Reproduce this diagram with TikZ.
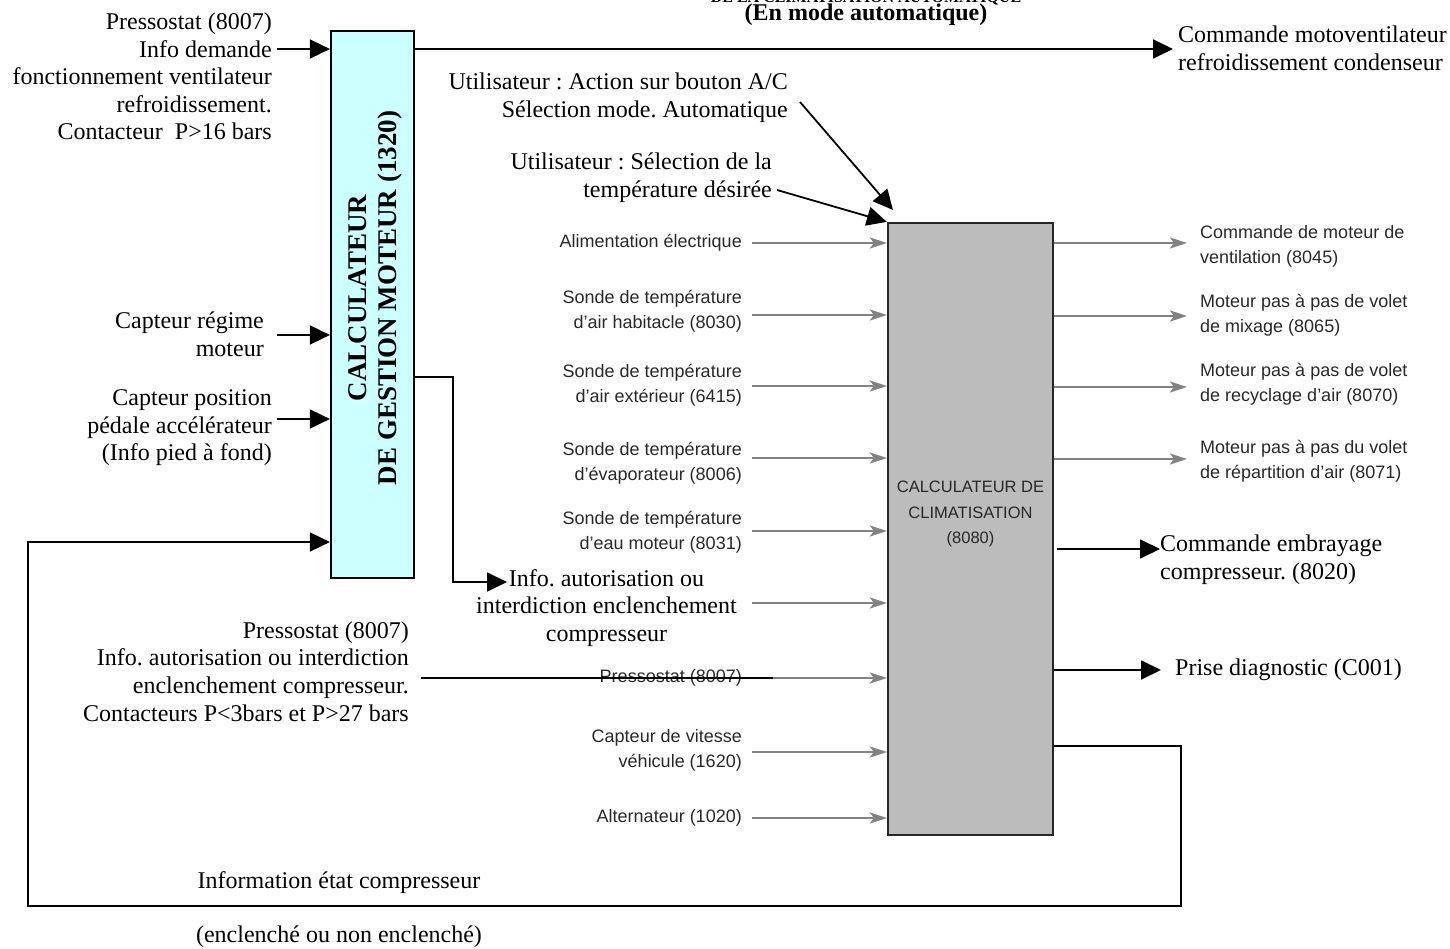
\documentclass[tikz,border=0pt]{standalone}
\usepackage{fontspec}
\setmainfont{Liberation Serif}
\newfontfamily\grayfont{Liberation Sans}
\usetikzlibrary{arrows.meta}
\definecolor{ecucyan}{RGB}{204,255,255}
\definecolor{climgray}{RGB}{188,188,188}
\definecolor{graytext}{RGB}{40,40,40}
\definecolor{grayline}{RGB}{130,130,130}
\frenchspacing
\begin{document}
\begin{tikzpicture}[x=1pt,y=-1pt,
  tnr/.style={font=\fontsize{24}{27.6}\selectfont, inner sep=0pt},
  gs/.style={font=\grayfont\fontsize{18}{25}\selectfont, text=graytext, inner sep=0pt},
  blk/.style={line width=1.8pt, -{Triangle[length=20pt,width=19pt]}},
  gry/.style={draw=grayline, line width=2.2pt, -{Stealth[length=17pt,width=11pt,inset=4pt]}},
  plain/.style={line width=1.8pt}
]
\useasboundingbox (0,0) rectangle (1450,949);

% titles (the first line is cut by the top edge, as in the reference)
\node[font=\bfseries\fontsize{16}{18}\selectfont, anchor=base, inner sep=0pt] (title0) at (866,2.5) {DE LA CLIMATISATION AUTOMATIQUE};
\node[font=\bfseries\fontsize{24}{27}\selectfont, inner sep=0pt] (title) at (866,15) {(En mode automatique)};

% boxes
\node[draw, fill=ecucyan, line width=2.2pt, minimum width=83pt, minimum height=547pt, inner sep=0pt] (ecu) at (372.5,304.5) {};
\node[rotate=90, font=\bfseries\fontsize{27}{30}\selectfont, align=center, inner sep=0pt] (ecutxt) at (375,298) {CALCULATEUR\\DE GESTION MOTEUR (1320)};

\node[draw=black!85, fill=climgray, line width=2.2pt, minimum width=165pt, minimum height=612pt, inner sep=0pt] (clim) at (970.5,529) {};
\node[font=\grayfont\fontsize{16.5}{25.5}\selectfont, text=graytext, align=center, inner sep=0pt] (climtxt) at (970.5,514) {CALCULATEUR DE\\CLIMATISATION\\(8080)};

% left texts of the engine ECU
\node[tnr, align=right, anchor=east] (p1) at (272,76.5) {Pressostat (8007)\\Info demande\\fonctionnement ventilateur\\refroidissement.\\Contacteur\ \ P>16 bars};
\node[tnr, align=right, anchor=east] (reg) at (264,334) {Capteur régime\\moteur};
\node[tnr, align=right, anchor=east] (ped) at (272,428) {Capteur position\\pédale accélérateur\\(Info pied à fond)};
\node[tnr, align=right, anchor=east] (p2) at (409,671.5) {Pressostat (8007)\\Info. autorisation ou interdiction\\enclenchement compresseur.\\Contacteurs P<3bars et P>27 bars\ };

\coordinate (a1) at (277,49);
\coordinate (a2) at (277,335);
\coordinate (a3) at (277,419);
\draw[blk] (a1) -- (a1 -| ecu.west);
\draw[blk] (a2) -- (a2 -| ecu.west);
\draw[blk] (a3) -- (a3 -| ecu.west);

% top output
\node[tnr, align=left, anchor=west] (mv) at (1178,48.5) {Commande motoventilateur\\refroidissement condenseur};
\coordinate (o1) at (1173,49);
\draw[blk] (o1 -| ecu.east) -- (o1);

% user inputs
\node[tnr, align=right, anchor=east] (u1) at (788,97.5) {Utilisateur : Action sur bouton A/C\\Sélection mode. Automatique};
\node[tnr, align=right, anchor=east] (u2) at (772,177.5) {Utilisateur : Sélection de la\\température désirée};
\coordinate (u1s) at (800,102);
\coordinate (u1e) at (893,210);
\coordinate (u2s) at (777,190);
\draw[blk] (u1s) -- (u1e);
\draw[blk] (u2s) -- (clim.north west);

% info autorisation from ECU
\node[tnr, align=center] (ia) at (606.5,608) {Info. autorisation ou\\interdiction enclenchement\\compresseur};
\coordinate (ia1) at (453,377);
\coordinate (ia2) at (453,582);
\coordinate (ia3) at (507,582);
\draw[blk] (ia1 -| ecu.east) -- (ia1) -- (ia2) -- (ia3);

% gray inputs
\node[gs, anchor=east] (g1) at (742,243) {Alimentation électrique};
\node[gs, anchor=east, align=right] (g2) at (742,311.5) {Sonde de température\\d’air habitacle (8030)};
\node[gs, anchor=east, align=right] (g3) at (742,385.5) {Sonde de température\\d’air extérieur (6415)};
\node[gs, anchor=east, align=right] (g4) at (742,463) {Sonde de température\\d’évaporateur (8006)};
\node[gs, anchor=east, align=right] (g5) at (742,532.5) {Sonde de température\\d’eau moteur (8031)};
\node[gs, anchor=east] (g7) at (742,678) {Pressostat (8007)};
\node[gs, anchor=east, align=right] (g8) at (742,750) {Capteur de vitesse\\véhicule (1620)};
\node[gs, anchor=east] (g9) at (742,818) {Alternateur (1020)};

\foreach \y [count=\i] in {243,315,386,458,531,603,678,752,818}{
  \coordinate (gi\i) at (752,\y);
  \draw[gry] (gi\i) -- (gi\i -| clim.west);
}

% pressostat black line
\coordinate (pl1) at (421,678);
\coordinate (pl2) at (773,678);
\draw[plain] (pl1) -- (pl2);

% gray outputs
\node[gs, anchor=west, align=left] (r1) at (1200,246) {Commande de moteur de\\ventilation (8045)};
\node[gs, anchor=west, align=left] (r2) at (1200,315) {Moteur pas à pas de volet\\de mixage (8065)};
\node[gs, anchor=west, align=left] (r3) at (1200,384.5) {Moteur pas à pas de volet\\de recyclage d’air (8070)};
\node[gs, anchor=west, align=left] (r4) at (1200,461) {Moteur pas à pas du volet\\de répartition d’air (8071)};
\foreach \y [count=\i] in {243,316,387,459}{
  \coordinate (go\i) at (1187,\y);
  \draw[gry] (go\i -| clim.east) -- (go\i);
}

% black outputs
\node[tnr, anchor=north west, align=left] (emb) at (1160,535) {Commande embrayage\\compresseur. (8020)};
\coordinate (e1) at (1057,549);
\coordinate (e2) at (1160,549);
\draw[blk] (e1) -- (e2);
\node[tnr, anchor=west] (diag) at (1175,670) {Prise diagnostic (C001)};
\coordinate (d2) at (1161,670);
\draw[blk] (d2 -| clim.east) -- (d2);

% feedback loop
\coordinate (f1) at (1181,746);
\coordinate (f2) at (1181,906);
\coordinate (f3) at (28,906);
\coordinate (f4) at (28,542);
\draw[blk] (f1 -| clim.east) -- (f1) -- (f2) -- (f3) -- (f4) -- (f4 -| ecu.west);
\node[tnr] (ie) at (339,883) {Information état compresseur};
\node[tnr] (ie2) at (339,937) {(enclenché ou non enclenché)};
\end{tikzpicture}
\end{document}
